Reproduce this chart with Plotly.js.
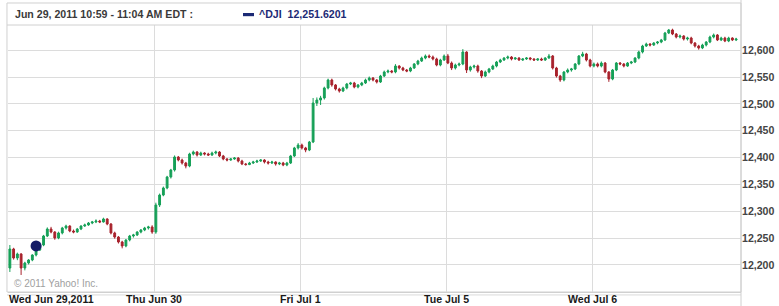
<!DOCTYPE html>
<html>
<head>
<meta charset="utf-8">
<script src="https://cdn.plot.ly/plotly-3.0.1.min.js"></script>
<style>
html,body{margin:0;padding:0;background:#fff;}
#chart{width:779px;height:306px;}
</style>
</head>
<body>
<div id="chart"></div>
<script>
// 10-minute OHLC bars of ^DJI, 39 bars per trading day
const dayLabels = ["Wed Jun 29,2011", "Thu Jun 30", "Fri Jul 1", "Tue Jul 5", "Wed Jul 6"];
const barsPerDay = 39;

const openVals = [
  // Jun 29
  12194.4,12229.8,12213.0,12220.5,12194.4,12203.7,12209.3,12218.6,12227.9,12237.2,12254.0,12267.0,12261.4,12250.3,12259.6,12268.9,12272.6,12263.3,12261.4,12267.0,12272.6,12274.5,12278.2,12280.1,12281.9,12280.1,12285.7,12276.3,12259.6,12252.1,12242.8,12235.4,12246.6,12254.0,12255.9,12261.4,12265.2,12268.9,12270.8,
  // Jun 30
  12261.4,12311.7,12330.3,12343.4,12363.9,12376.9,12401.1,12395.5,12389.9,12384.3,12406.7,12410.4,12404.8,12408.5,12406.7,12404.8,12408.5,12410.4,12403.0,12397.4,12395.5,12397.4,12399.2,12393.6,12388.1,12387.0,12389.9,12391.8,12393.6,12395.5,12391.8,12389.9,12391.8,12388.1,12389.9,12386.2,12389.9,12403.0,12417.9,
  // Jul 1
  12423.4,12417.9,12414.1,12429.0,12501.6,12507.2,12511.0,12529.6,12544.5,12535.2,12527.7,12524.0,12529.6,12537.0,12538.9,12531.4,12535.2,12538.9,12544.5,12548.2,12544.5,12540.7,12551.9,12559.4,12561.2,12559.4,12570.5,12566.8,12563.1,12561.2,12566.8,12574.3,12579.8,12585.4,12589.2,12587.3,12583.6,12572.4,12581.7,
  // Jul 5
  12589.2,12576.1,12566.8,12572.4,12574.3,12596.6,12563.1,12568.7,12570.5,12561.2,12551.9,12559.4,12565.0,12570.5,12578.0,12581.7,12585.4,12587.3,12583.6,12585.4,12581.7,12583.6,12585.4,12583.6,12581.7,12583.6,12581.7,12585.4,12589.2,12566.8,12551.9,12544.5,12559.4,12563.1,12565.0,12574.3,12589.2,12592.9,12581.7,
  // Jul 6
  12570.5,12574.3,12570.5,12576.1,12559.4,12546.3,12563.1,12576.1,12574.3,12570.5,12576.1,12578.0,12585.4,12596.6,12607.8,12611.5,12609.6,12613.4,12615.2,12619.0,12632.0,12637.6,12630.1,12624.5,12626.4,12620.8,12622.7,12613.4,12607.8,12604.1,12609.6,12615.2,12624.5,12628.3,12619.0,12622.7,12617.1,12622.7,12619.0
];
const highVals = [
  12237.2,12232,12223,12222,12206,12211,12220,12230,12239,12256,12270,12271,12263,12262,12271,12275,12274,12266,12269,12274,12277,12280,12282,12285,12284,12288,12287,12278,12262,12254,12245,12248,12256,12258,12263,12267,12271,12273,12274,
  12316,12333,12346,12366,12379,12404,12403,12398,12392,12409,12413,12412,12411,12410,12409,12411,12413,12412,12405,12399,12399,12401,12401,12396,12390,12392,12394,12396,12397,12397,12394,12394,12393,12392,12392,12392,12405,12420,12427,
  12426,12420,12431,12511,12512,12515,12532,12547,12547,12537,12530,12532,12539,12541,12541,12537,12541,12547,12551,12550,12546,12554,12562,12564,12563,12574,12572,12569,12565,12569,12576,12582,12588,12592,12592,12590,12586,12584,12592,
  12593,12579,12575,12577,12602,12598,12571,12573,12573,12563,12562,12567,12573,12580,12584,12587,12590,12589,12587,12587,12585,12587,12587,12585,12585,12586,12587,12593,12591,12569,12554,12561,12566,12567,12576,12591,12597,12595,12584,
  12577,12577,12579,12578,12561,12565,12578,12578,12576,12578,12580,12587,12599,12610,12614,12613,12615,12617,12621,12634,12639.5,12640,12632,12629,12628,12625,12625,12615,12610,12612,12617,12627,12631,12630,12625,12625,12625,12624,12623
];
const lowVals = [
  12187,12210,12209,12181.4,12190,12201,12207,12216,12226,12235,12252,12259,12247,12248,12257,12266,12261,12259,12260,12265,12271,12273,12276,12278,12278,12279,12274,12257,12249,12240,12231,12233,12244,12251,12254,12259,12263,12266,12258,
  12258,12308,12328,12341,12361,12374,12393,12387,12380,12382,12404,12402,12403,12404,12403,12403,12406,12401,12395,12393,12394,12396,12391,12386,12385,12386,12388,12390,12392,12389,12387,12388,12385,12386,12384,12384,12388,12401,12415,
  12415,12410,12412,12427,12496,12498,12508,12527,12532,12525,12521,12522,12527,12535,12529,12529,12533,12537,12542,12542,12538,12539,12550,12557,12557,12557,12564,12561,12559,12559,12565,12572,12578,12583,12585,12581,12570,12570,12580,
  12574,12563,12564,12570,12572,12557.5,12560,12566,12558,12548,12550,12557,12563,12568,12576,12580,12583,12581,12582,12580,12580,12582,12581,12580,12580,12580,12580,12584,12564,12549,12541,12542,12557,12560,12563,12572,12587,12579,12568,
  12568,12568,12568,12557,12541,12544,12561,12572,12568,12569,12574,12576,12583,12594,12606,12607,12608,12611,12613,12617,12630,12628,12622,12622,12618,12618,12611,12605,12601,12602,12607,12613,12622,12617,12617,12615,12615,12617,12617
];
const closeVals = [
  12229.8,12213.0,12220.5,12194.4,12203.7,12209.3,12218.6,12227.9,12237.2,12254.0,12267.0,12261.4,12250.3,12259.6,12268.9,12272.6,12263.3,12261.4,12267.0,12272.6,12274.5,12278.2,12280.1,12281.9,12280.1,12285.7,12276.3,12259.6,12252.1,12242.8,12235.4,12246.6,12254.0,12255.9,12261.4,12265.2,12268.9,12270.8,12261.4,
  12311.7,12330.3,12343.4,12363.9,12376.9,12401.1,12395.5,12389.9,12384.3,12406.7,12410.4,12404.8,12408.5,12406.7,12404.8,12408.5,12410.4,12403.0,12397.4,12395.5,12397.4,12399.2,12393.6,12388.1,12387.0,12389.9,12391.8,12393.6,12395.5,12391.8,12389.9,12391.8,12388.1,12389.9,12386.2,12389.9,12403.0,12417.9,12423.4,
  12417.9,12414.1,12429.0,12501.6,12507.2,12511.0,12529.6,12544.5,12535.2,12527.7,12524.0,12529.6,12537.0,12538.9,12531.4,12535.2,12538.9,12544.5,12548.2,12544.5,12540.7,12551.9,12559.4,12561.2,12559.4,12570.5,12566.8,12563.1,12561.2,12566.8,12574.3,12579.8,12585.4,12589.2,12587.3,12583.6,12572.4,12581.7,12589.2,
  12576.1,12566.8,12572.4,12574.3,12596.6,12563.1,12568.7,12570.5,12561.2,12551.9,12559.4,12565.0,12570.5,12578.0,12581.7,12585.4,12587.3,12583.6,12585.4,12581.7,12583.6,12585.4,12583.6,12581.7,12583.6,12581.7,12585.4,12589.2,12566.8,12551.9,12544.5,12559.4,12563.1,12565.0,12574.3,12589.2,12592.9,12581.7,12570.5,
  12574.3,12570.5,12576.1,12559.4,12546.3,12563.1,12576.1,12574.3,12570.5,12576.1,12578.0,12585.4,12596.6,12607.8,12611.5,12609.6,12613.4,12615.2,12619.0,12632.0,12637.6,12630.1,12624.5,12626.4,12620.8,12622.7,12613.4,12607.8,12604.1,12609.6,12615.2,12624.5,12628.3,12619.0,12622.7,12617.1,12622.7,12619.0,12620.8
];
const yTicks = [12200, 12250, 12300, 12350, 12400, 12450, 12500, 12550, 12600];
const headerRange = "Jun 29, 2011 10:59 - 11:04 AM EDT :";
const seriesName = "^DJI";
const seriesValue = "12,251.6201";
const hoverBar = 7;          // bar highlighted by the cursor dot
const hoverPrice = 12235.4;  // dot position as drawn
const copyright = "© 2011 Yahoo! Inc.";

const xIdx = closeVals.map((_, i) => i);
const dayStarts = [1, 2, 3, 4].map(d => d * barsPerDay - 0.5);

const font = "'Liberation Sans', Arial, sans-serif";
const fs = 10.6;
const labelY = -0.025;

const traces = [
  {
    type: "candlestick",
    x: xIdx, open: openVals, high: highVals, low: lowVals, close: closeVals,
    increasing: {line: {color: "#16a058", width: 1}, fillcolor: "#16a058"},
    decreasing: {line: {color: "#a8232d", width: 1}, fillcolor: "#a8232d"},
    whiskerwidth: 0,
    showlegend: false,
    hoverinfo: "skip"
  },
  {
    type: "scatter", mode: "markers",
    x: [hoverBar], y: [hoverPrice],
    marker: {size: 11, color: "#141c66"},
    showlegend: false, hoverinfo: "skip"
  }
];

const dayAnnotations = dayStarts.map((v, k) => ({
  text: dayLabels[k + 1], xref: "x", yref: "paper", x: v, y: labelY,
  xanchor: "center", yanchor: "middle", showarrow: false,
  font: {family: font, size: fs, color: "#1a1a1a", weight: "bold"}
}));

const layout = {
  width: 779, height: 306,
  margin: {l: 8, r: 38, t: 25, b: 14, pad: 0},
  paper_bgcolor: "#ffffff",
  plot_bgcolor: "#ffffff",
  showlegend: false,
  font: {family: font, size: 10, color: "#333"},
  xaxis: {
    type: "linear",
    range: [-0.5, 195.3],
    rangeslider: {visible: false},
    tickvals: dayStarts,
    showticklabels: false,
    ticks: "", showgrid: true, gridcolor: "#dcdcdc", gridwidth: 1,
    zeroline: false, showline: true, linecolor: "#d0d0d0", linewidth: 1,
    fixedrange: true
  },
  yaxis: {
    side: "right",
    range: [12149.7, 12646.9],
    tickvals: yTicks,
    tickformat: ",d",
    tickfont: {family: font, size: fs, color: "#444", weight: "bold"},
    ticks: "", showgrid: true, gridcolor: "#dcdcdc", gridwidth: 1,
    zeroline: false, showline: false,
    fixedrange: true
  },
  shapes: [
    {type: "rect", xref: "paper", yref: "paper", x0: -0.0014, x1: 1, y0: 0, y1: 1.0824,
     line: {color: "#d0d0d0", width: 1}, fillcolor: "rgba(0,0,0,0)", layer: "below"},
    {type: "line", xref: "paper", yref: "paper", x0: -0.0014, x1: 1, y0: 1, y1: 1,
     line: {color: "#d0d0d0", width: 1}},
    {type: "line", xref: "paper", yref: "paper", x0: -0.0014, x1: 1, y0: -0.011, y1: -0.011,
     line: {color: "#dadada", width: 1}},
    {type: "line", xref: "paper", yref: "paper", x0: 1, x1: 1, y0: -0.06, y1: 1.1,
     line: {color: "#d0d0d0", width: 1}},
    {type: "rect", xref: "paper", yref: "paper", x0: 0.3206, x1: 0.3356, y0: 1.033, y1: 1.045,
     line: {width: 0}, fillcolor: "#1c2a75"}
  ],
  annotations: [
    {text: headerRange, xref: "paper", yref: "paper", x: 0.0068, y: 1.041,
     xanchor: "left", yanchor: "middle", showarrow: false,
     font: {family: font, size: fs, color: "#3a3a3a", weight: "bold"}},
    {text: seriesName + "  " + seriesValue, xref: "paper", yref: "paper", x: 0.3397, y: 1.041,
     xanchor: "left", yanchor: "middle", showarrow: false,
     font: {family: font, size: fs, color: "#1c2a75", weight: "bold"}},
    {text: dayLabels[0], xref: "paper", yref: "paper", x: -0.0014, y: labelY,
     xanchor: "left", yanchor: "middle", showarrow: false,
     font: {family: font, size: fs, color: "#1a1a1a", weight: "bold"}},
    {text: copyright, xref: "paper", yref: "paper", x: 0.005, y: 0.03,
     xanchor: "left", yanchor: "middle", showarrow: false,
     font: {family: font, size: 10, color: "#a0a0a0"}}
  ].concat(dayAnnotations)
};

Plotly.newPlot("chart", traces, layout, {staticPlot: true, displayModeBar: false});
</script>
</body>
</html>
